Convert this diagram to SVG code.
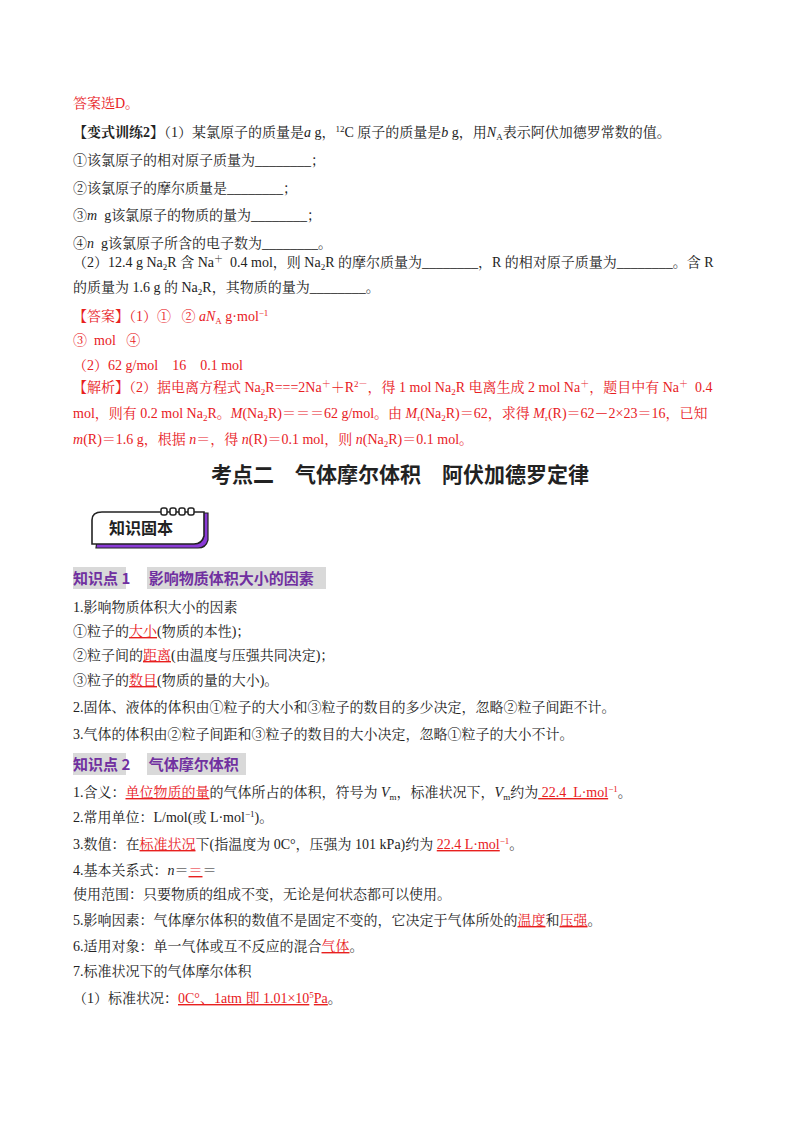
<svg xmlns="http://www.w3.org/2000/svg" width="800" height="1132" viewBox="0 0 800 1132">
<style>
text{font-family:"Liberation Serif","Noto Serif CJK SC","Noto Sans CJK SC",serif;font-size:14px;fill:#222;white-space:pre}
.r{fill:#e8201e}
.p{fill:#7030a0;font-weight:bold;font-family:"Noto Sans CJK SC",sans-serif;font-size:15px}
.b{font-weight:bold}
.u{text-decoration:underline}
.s{font-size:9px}
.i{font-style:italic}
</style>
<rect width="800" height="1132" fill="#fff"/>
<text x="73" y="108" class="r">答案选D。</text>
<text x="73" y="137"><tspan class="b">【变式训练2】</tspan>（1）某氯原子的质量是<tspan class="i">a</tspan> g，<tspan class="s" dy="-5">12</tspan><tspan dy="5">C 原子的质量是</tspan><tspan class="i">b</tspan> g，用<tspan class="i">N</tspan><tspan class="s" dy="3">A</tspan><tspan dy="-3">表示阿伏加德罗常数的值。</tspan></text>
<text x="73" y="165">①该氯原子的相对原子质量为________；</text>
<text x="73" y="193">②该氯原子的摩尔质量是________；</text>
<text x="73" y="220">③<tspan class="i">m</tspan>  g该氯原子的物质的量为________；</text>
<text x="73" y="248">④<tspan class="i">n</tspan>  g该氯原子所含的电子数为________。</text>
<text x="73" y="267">（2）12.4 g Na<tspan class="s" dy="3">2</tspan><tspan dy="-3">R 含 Na</tspan><tspan class="s" dy="-5">＋</tspan><tspan dy="5">  0.4 mol，则 Na</tspan><tspan class="s" dy="3">2</tspan><tspan dy="-3">R 的摩尔质量为________，R 的相对原子质量为________。含 R</tspan></text>
<text x="73" y="292">的质量为 1.6 g 的 Na<tspan class="s" dy="3">2</tspan><tspan dy="-3">R，其物质的量为________。</tspan></text>
<text x="73" y="321" class="r">【答案】（1）①   ② <tspan class="i">aN</tspan><tspan class="s" dy="3">A</tspan><tspan dy="-3"> g·mol</tspan><tspan class="s" dy="-5">−1</tspan></text>
<text x="73" y="345" class="r">③  mol   ④</text>
<text x="73" y="370" class="r">（2）62 g/mol    16    0.1 mol</text>
<text x="73" y="392" class="r">【解析】（2）据电离方程式 Na<tspan class="s" dy="3">2</tspan><tspan dy="-3">R===2Na</tspan><tspan class="s" dy="-5">＋</tspan><tspan dy="5">＋R</tspan><tspan class="s" dy="-5">2－</tspan><tspan dy="5">，得 1 mol Na</tspan><tspan class="s" dy="3">2</tspan><tspan dy="-3">R 电离生成 2 mol Na</tspan><tspan class="s" dy="-5">＋</tspan><tspan dy="5">，题目中有 Na</tspan><tspan class="s" dy="-5">＋</tspan><tspan dy="5">  0.4</tspan></text>
<text x="73" y="418" class="r">mol，则有 0.2 mol Na<tspan class="s" dy="3">2</tspan><tspan dy="-3">R。</tspan><tspan class="i">M</tspan>(Na<tspan class="s" dy="3">2</tspan><tspan dy="-3">R)＝＝＝62 g/mol。由 </tspan><tspan class="i">M</tspan><tspan class="s" dy="3">r</tspan><tspan dy="-3">(Na</tspan><tspan class="s" dy="3">2</tspan><tspan dy="-3">R)＝62，求得 </tspan><tspan class="i">M</tspan><tspan class="s" dy="3">r</tspan><tspan dy="-3">(R)＝62－2×23＝16，已知</tspan></text>
<text x="73" y="444" class="r"><tspan class="i">m</tspan>(R)＝1.6 g，根据 <tspan class="i">n</tspan>＝，得 <tspan class="i">n</tspan>(R)＝0.1 mol，则 <tspan class="i">n</tspan>(Na<tspan class="s" dy="3">2</tspan><tspan dy="-3">R)＝0.1 mol。</tspan></text>
<text x="400" y="482" text-anchor="middle" style="font-family:'Noto Sans CJK SC',sans-serif;font-weight:bold;font-size:21px">考点二　气体摩尔体积　阿伏加德罗定律</text>
<g id="badge">
<path d="M100 518 Q100 514 106 513 L208 513 L208 540 Q206 548 198 548 L96 548 Z" fill="#8a3ad6" stroke="#222" stroke-width="1.2"/>
<path d="M92 520 Q92 512 102 512 L204 512 L204 536 Q202 544 194 544 L92 544 Z" fill="#fff" stroke="#222" stroke-width="1.6"/>
<g fill="#fff" stroke="#222" stroke-width="1.5"><rect x="161" y="508" width="6" height="7" rx="2"/><rect x="170" y="508" width="6" height="7" rx="2"/><rect x="179" y="508" width="6" height="7" rx="2"/><rect x="188" y="508" width="6" height="7" rx="2"/></g>
<text x="109" y="534" style="font-family:'Noto Sans CJK SC',sans-serif;font-weight:bold;font-size:16px">知识固本</text>
</g>
<rect x="73" y="567" width="53" height="22" fill="#d9d9d9"/><rect x="147" y="567" width="179" height="22" fill="#d9d9d9"/>
<text x="73" y="584" class="p">知识点 1　 影响物质体积大小的因素</text>
<text x="73" y="612">1.影响物质体积大小的因素</text>
<text x="73" y="636">①粒子的<tspan class="r u">大小</tspan>(物质的本性)；</text>
<text x="73" y="660">②粒子间的<tspan class="r u">距离</tspan>(由温度与压强共同决定)；</text>
<text x="73" y="685">③粒子的<tspan class="r u">数目</tspan>(物质的量的大小)。</text>
<text x="73" y="712">2.固体、液体的体积由①粒子的大小和③粒子的数目的多少决定，忽略②粒子间距不计。</text>
<text x="73" y="739">3.气体的体积由②粒子间距和③粒子的数目的大小决定，忽略①粒子的大小不计。</text>
<rect x="73" y="753" width="53" height="22" fill="#d9d9d9"/><rect x="147" y="753" width="99" height="22" fill="#d9d9d9"/>
<text x="73" y="770" class="p">知识点 2　 气体摩尔体积</text>
<text x="73" y="797">1.含义：<tspan class="r u">单位物质的量</tspan>的气体所占的体积，符号为 <tspan class="i">V</tspan><tspan class="s" dy="3">m</tspan><tspan dy="-3">，标准状况下，</tspan><tspan class="i">V</tspan><tspan class="s" dy="3">m</tspan><tspan dy="-3">约为</tspan><tspan class="r u"> 22.4  L·mol</tspan><tspan class="r s" dy="-5">−1</tspan><tspan dy="5">。</tspan></text>
<text x="73" y="822">2.常用单位：L/mol(或 L·mol<tspan class="s" dy="-5">−1</tspan><tspan dy="5">)。</tspan></text>
<text x="73" y="849">3.数值：在<tspan class="r u">标准状况</tspan>下(指温度为 0C°，压强为 101 kPa)约为 <tspan class="r u">22.4 L·mol</tspan><tspan class="r s" dy="-5">−1</tspan><tspan dy="5">。</tspan></text>
<text x="73" y="875">4.基本关系式：<tspan class="i">n</tspan>＝<tspan class="r u">＝</tspan>＝</text>
<text x="73" y="899">使用范围：只要物质的组成不变，无论是何状态都可以使用。</text>
<text x="73" y="925">5.影响因素：气体摩尔体积的数值不是固定不变的，它决定于气体所处的<tspan class="r u">温度</tspan>和<tspan class="r u">压强</tspan>。</text>
<text x="73" y="951">6.适用对象：单一气体或互不反应的混合<tspan class="r u">气体</tspan>。</text>
<text x="73" y="976">7.标准状况下的气体摩尔体积</text>
<text x="73" y="1003">（1）标准状况：<tspan class="r u">0C°、1atm 即 1.01×10</tspan><tspan class="r s" dy="-5">5</tspan><tspan class="r u" dy="5">Pa</tspan>。</text>
</svg>
